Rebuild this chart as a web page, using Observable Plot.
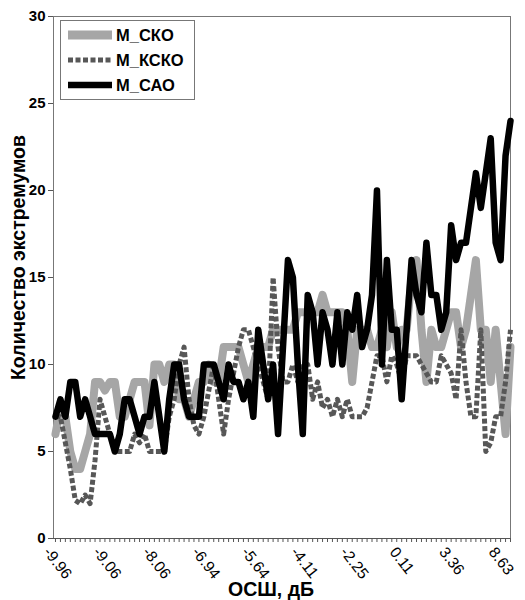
<!DOCTYPE html>
<html><head><meta charset="utf-8">
<script src="https://cdn.jsdelivr.net/npm/d3@7"></script>
<script src="https://cdn.jsdelivr.net/npm/@observablehq/plot@0.6"></script>
<style>
body{margin:0;background:#fff;font-family:"Liberation Sans",Arial,sans-serif;}
#wrap{position:relative;width:525px;height:600px;}
#legend{position:absolute;left:60px;top:20px;width:135px;height:80px;border:1px solid #777;background:#fff;box-sizing:border-box;}
</style></head><body><div id="wrap"><div id="legend"></div></div>
<script>
const xTickLabels = ["-9.96","-9.06","-8.06","-6.94","-5.64","-4.11","-2.25","0.11","3.36","8.63"];
const seriesNames = ["M_СКО","M_КСКО","M_САО"];
const yTicks = [0,5,10,15,20,25,30];

const mSKO = [6,7.5,7,5,4,4,5,6,9,9,
 8.5,9,9,7,7,8,9,9,9,6.5,
 10,10,9,10,10,8,8,7,8,9,
 9,10,9,9,11,11,11,11,10,9,
 10,11,11,11,12,12,12,12,12,13,
 13,13,13,13,14,13,13,13,13,12,
 9,12,12,12,11,11,12,11,13,11,
 12,12,15,16,12,9,12,11,11,12,
 13,13,11,12,14,16,12,12,9,12,
 9,6,11];

const mKSKO = [7,7,5.5,4,2.2,2,2.5,2,4.5,8,
 7,6,5,5,5,5,6,5.5,6,5,
 5,5,5,7,8,10,11,8,6.5,6,
 7,8.5,10,8,6,8,9.5,11,12,12,
 11,10,9,8,15,11,9,9,10,9,
 10,10,8,9,7.5,8,7,8,7,8,
 7,7,7,7.5,9,10.5,10.5,9,10.5,10,
 9,10.5,10.5,10.5,10,9.5,9,9,10.5,10,
 9.5,8,12,9,7,7,12,5,5.5,7,
 7,9,12];

const mSAO = [7,8,7,9,9,7,8,7,6,6,
 6,6,5,6,8,8,7,6,7,7,
 9,7,5,8,10,10,8,7,7,7,
 10,10,10,9,8,10,9,9,8,9,
 7,12,10,8,10,6,11,16,15,10,
 6,14,13,10,13,12,10,13,10,13,
 12,14,11,12,14,20,10,16,12,12,
 8,12,16,14,13,17,14,14,12,13,
 18,16,17,17,19,21,19,21,23,17,
 16,22,24];

const styles = [
  {stroke:"#a6a6a6", strokeWidth:8, dash:null},
  {stroke:"#575757", strokeWidth:5, dash:"5,2.5"},
  {stroke:"#000000", strokeWidth:6.5, dash:null}
];
const allSeries = [mSKO, mKSKO, mSAO];
const idx = d3.range(mSAO.length);
const labelIdx = xTickLabels.map((_, k) => k * 10);

const lineMarks = allSeries.map((vals, s) => Plot.lineY(vals.map((v, i) => ({i, v})), {
  x: "i", y: "v", stroke: styles[s].stroke, strokeWidth: styles[s].strokeWidth,
  strokeDasharray: styles[s].dash, strokeLinejoin: "round", strokeLinecap: s === 1 ? "butt" : "round"
}));

const chart = Plot.plot({
  width: 525, height: 600,
  marginLeft: 53, marginRight: 15, marginTop: 16, marginBottom: 62,
  style: {fontFamily: "'Liberation Sans', Arial, sans-serif", background: "#fff", color: "#000"},
  x: {domain: [-0.4, idx.length - 1], axis: null},
  y: {domain: [0, 30], axis: null},
  marks: [
    Plot.frame({stroke: "#777"}),
    ...lineMarks,
    Plot.axisX(idx, {tickSize: 4, tickFormat: () => "", stroke: "#555", label: null}),
    Plot.axisX(labelIdx, {tickSize: 0, tickFormat: i => xTickLabels[i / 10], tickRotate: 52,
      textAnchor: "start", lineAnchor: "top", tickPadding: 7, fontSize: 15.5, dx: -4, label: null}),
    Plot.axisY(yTicks, {tickSize: 5, fontSize: 15, fontWeight: "bold", tickPadding: 3, stroke: "#555", label: null}),
    Plot.ruleY([0], {stroke: "#555"}),
    Plot.text(["Количество экстремумов"], {frameAnchor: "left", textAnchor: "middle", rotate: -90, dx: -35, dy: -20,
      fontSize: 19.5, fontWeight: "bold"}),
    Plot.text(["ОСШ, дБ"], {frameAnchor: "bottom", dy: 57, dx: -11, fontSize: 19.5, fontWeight: "bold"})
  ]
});
document.getElementById("wrap").prepend(chart);

// legend
const lg = d3.select("#legend").append("svg").attr("width", 133).attr("height", 78);
seriesNames.forEach((name, s) => {
  const cy = 14 + s * 25;
  lg.append("line").attr("x1", 7).attr("x2", 51).attr("y1", cy).attr("y2", cy)
    .attr("stroke", styles[s].stroke).attr("stroke-width", s === 0 ? 9 : styles[s].strokeWidth)
    .attr("stroke-dasharray", styles[s].dash);
  lg.append("text").attr("x", 55).attr("y", cy).attr("dy", "0.36em")
    .attr("font-size", 16.5).attr("font-weight", "bold")
    .attr("font-family", "'Liberation Sans', Arial, sans-serif").text(name);
});
</script></body></html>
